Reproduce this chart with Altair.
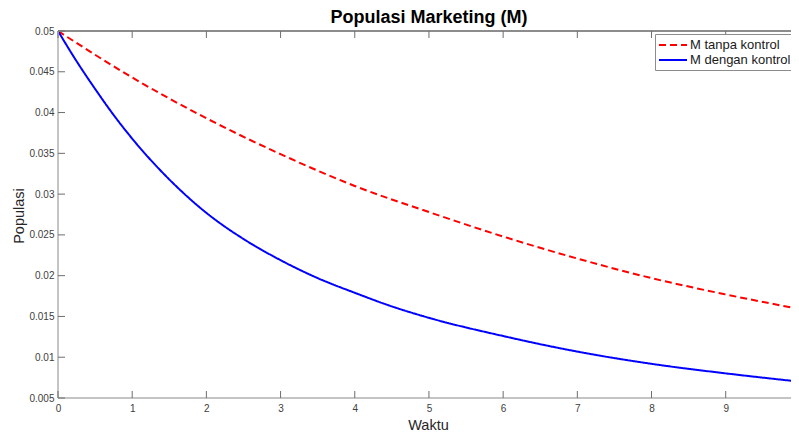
import altair as alt
import pandas as pd

# ---- data ----
series = ["M tanpa kontrol", "M dengan kontrol"]

t_tanpa = [0, 1, 2, 3, 4, 5, 6, 7, 8, 9, 10]
m_tanpa = [0.0500, 0.0443, 0.0393, 0.0349, 0.0310, 0.0278, 0.0248, 0.0221, 0.0197, 0.0177, 0.0159]

t_dengan = [0, 0.25, 0.5, 0.75, 1, 1.5, 2, 2.5, 3, 3.5, 4, 4.5, 5, 6, 7, 8, 9, 10]
m_dengan = [0.0500, 0.0463, 0.0429, 0.0397, 0.0368, 0.0318, 0.0277, 0.0245, 0.0219, 0.0197,
            0.0179, 0.01623, 0.01483, 0.0126, 0.01069, 0.00919, 0.00802, 0.0070]

x_ticks = [0, 1, 2, 3, 4, 5, 6, 7, 8, 9, 10]
y_ticks = [0.005, 0.01, 0.015, 0.02, 0.025, 0.03, 0.035, 0.04, 0.045, 0.05]

# the reference's plot runs past the right edge of the window (x = 10 sits on the edge)
X_MAX = 9.88
W, H = 733, 367
FONT = "Liberation Sans"
TICK_C = "#6e6e6e"
LABEL_C = "#404040"

vis_x_ticks = [v for v in x_ticks if v <= X_MAX]

df = pd.concat([
    pd.DataFrame({"t": t_tanpa, "m": m_tanpa, "series": series[0]}),
    pd.DataFrame({"t": t_dengan, "m": m_dengan, "series": series[1]}),
])
xt = pd.DataFrame({"t": vis_x_ticks})
yt = pd.DataFrame({"m": y_ticks})

xs = alt.Scale(domain=[0, X_MAX], nice=False, zero=False)
ys = alt.Scale(domain=[0.005, 0.05], nice=False, zero=False)

x_axis = alt.Axis(
    values=vis_x_ticks, title="Waktu", grid=False, domain=False, ticks=False,
    labelFontSize=10, labelColor=LABEL_C, labelFont=FONT, labelPadding=5,
    titleFontSize=14.5, titleFont=FONT, titleFontWeight="normal", titleColor="#262626",
    titleX=370, titleY=31.5, titleAlign="center", titleBaseline="alphabetic", labelFlush=False)
y_axis = alt.Axis(
    values=y_ticks, format="~g", title="Populasi", grid=False, domain=False, ticks=False,
    labelFontSize=10, labelColor=LABEL_C, labelFont=FONT, labelPadding=4,
    titleFontSize=14.5, titleFont=FONT, titleFontWeight="normal", titleColor="#262626",
    titleX=-35, titleY=184.5, titleAngle=270, titleAlign="center", titleBaseline="alphabetic",
    labelFlush=False)

leg = alt.Legend(
    title=None, orient="none", legendX=597, legendY=3,
    symbolType="M-1,0H3", symbolSize=196, symbolStrokeWidth=2,
    labelFontSize=13, labelFont=FONT, labelColor="#1a1a1a", labelOffset=16,
    padding=3, rowPadding=0, strokeColor="#8c8c8c", fillColor="white",
)

lines = alt.Chart(df).mark_line(strokeWidth=2, clip=True, interpolate="monotone").encode(
    x=alt.X("t:Q", scale=xs, axis=x_axis),
    y=alt.Y("m:Q", scale=ys, axis=y_axis),
    color=alt.Color("series:N", scale=alt.Scale(domain=series, range=["#ff0000", "#0000ff"]), legend=leg),
    strokeDash=alt.StrokeDash("series:N", scale=alt.Scale(domain=series, range=[[7, 4], [1, 0]]), legend=leg),
)

bottom_ticks = alt.Chart(xt).mark_rule(color=TICK_C, strokeWidth=1).encode(
    x=alt.X("t:Q", scale=xs, axis=x_axis), y=alt.value(H), y2=alt.value(H - 7))
top_ticks = alt.Chart(xt).mark_rule(color=TICK_C, strokeWidth=1).encode(
    x=alt.X("t:Q", scale=xs, axis=x_axis), y=alt.value(0), y2=alt.value(7))
left_ticks = alt.Chart(yt).mark_rule(color=TICK_C, strokeWidth=1).encode(
    y=alt.Y("m:Q", scale=ys, axis=y_axis), x=alt.value(0), x2=alt.value(7))

frame_top = alt.Chart(xt).mark_rule(color="#8c8c8c", strokeWidth=1).encode(
    x=alt.value(0), x2=alt.value(W), y=alt.value(0))
frame_left = alt.Chart(xt).mark_rule(color="#c4c4c4", strokeWidth=2).encode(
    x=alt.value(0), y=alt.value(0), y2=alt.value(H))
frame_bottom = alt.Chart(xt).mark_rule(color="#c4c4c4", strokeWidth=2).encode(
    x=alt.value(0), x2=alt.value(W), y=alt.value(H))

chart = alt.layer(
    lines,
    frame_top, frame_left, frame_bottom,
    bottom_ticks, top_ticks, left_ticks,
).properties(
    width=W, height=H,
    title=alt.TitleParams("Populasi Marketing (M)", fontSize=18, fontWeight="bold", font=FONT,
                          color="#000000", anchor="middle", frame="group", offset=-1, dx=4.5),
    autosize=alt.AutoSizeParams(type="none"),
    padding={"left": 50, "top": 23, "right": 0, "bottom": 34},
    background="white",
).configure_view(stroke=None)

chart.save("out.html", embed_options={"renderer": "svg", "actions": False})
